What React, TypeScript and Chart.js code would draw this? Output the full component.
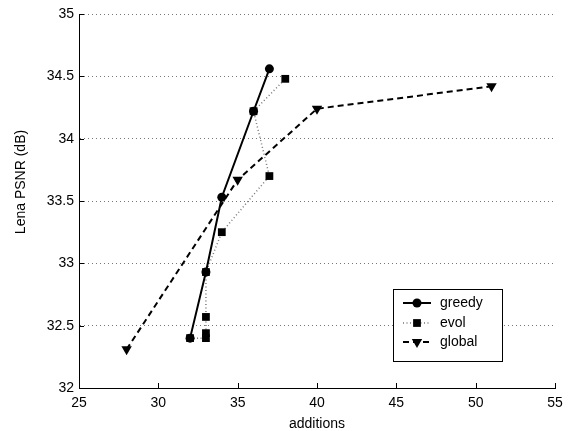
import React, { useEffect, useRef } from "react";
import { Chart, registerables } from "chart.js";

Chart.register(...registerables);

const greedyX = [32, 33, 34, 36, 37];
const greedyY = [32.40, 32.93, 33.53, 34.22, 34.56];

const evolX = [32, 33, 33, 33, 33, 34, 37, 36, 38];
const evolY = [32.40, 32.40, 32.44, 32.57, 32.93, 33.25, 33.70, 34.22, 34.48];

const globalX = [28, 35, 40, 51];
const globalY = [32.31, 33.67, 34.24, 34.42];

const xTicks = [25, 30, 35, 40, 45, 50, 55];
const yTicks = [32, 32.5, 33, 33.5, 34, 34.5, 35];

const xTitle = "additions";
const yTitle = "Lena PSNR (dB)";

const FONT = "'Liberation Sans', Arial, Helvetica, sans-serif";

const toPoints = (xs: number[], ys: number[]) => xs.map((x, i) => ({ x, y: ys[i] }));

function drawMarker(ctx: CanvasRenderingContext2D, style: string, x: number, y: number, r: number) {
  ctx.beginPath();
  if (style === "circle") {
    ctx.arc(x, y, r, 0, Math.PI * 2);
  } else if (style === "rect") {
    const s = Math.SQRT1_2 * r;
    ctx.rect(x - s, y - s, 2 * s, 2 * s);
  } else {
    const a = Math.PI;
    for (let k = 0; k < 3; k++) {
      const ang = a + k * (2 * Math.PI / 3);
      const px = x + Math.sin(ang) * r;
      const py = y - Math.cos(ang) * r;
      if (k === 0) ctx.moveTo(px, py); else ctx.lineTo(px, py);
    }
    ctx.closePath();
  }
  ctx.fillStyle = "#000";
  ctx.fill();
}

const tickPlugin = {
  id: "inwardTicks",
  afterDraw(chart: any) {
    const ctx = chart.ctx as CanvasRenderingContext2D;
    const { left, bottom } = chart.chartArea;
    const xs = chart.scales.x;
    const ys = chart.scales.y;
    ctx.save();
    ctx.strokeStyle = "#000";
    ctx.lineWidth = 1;
    ctx.beginPath();
    xs.ticks.forEach((t: any) => {
      const px = Math.round(xs.getPixelForValue(t.value)) + 0.5;
      ctx.moveTo(px, bottom);
      ctx.lineTo(px, bottom - 5);
    });
    ys.ticks.forEach((t: any) => {
      const py = Math.round(ys.getPixelForValue(t.value)) + 0.5;
      ctx.moveTo(left, py);
      ctx.lineTo(left + 5, py);
    });
    ctx.stroke();
    // axis titles
    ctx.fillStyle = "#000";
    ctx.font = `14px ${FONT}`;
    ctx.textAlign = "center";
    ctx.textBaseline = "middle";
    ctx.fillText(xTitle, (chart.chartArea.left + chart.chartArea.right) / 2, 424);
    ctx.translate(21, 182);
    ctx.rotate(-Math.PI / 2);
    ctx.fillText(yTitle, 0, 0);
    ctx.restore();
  },
};

const legendPlugin = {
  id: "boxLegend",
  afterDraw(chart: any) {
    const ctx = chart.ctx as CanvasRenderingContext2D;
    const bx = 393.5, by = 289.5, bw = 109, bh = 72;
    ctx.save();
    ctx.fillStyle = "#fff";
    ctx.fillRect(bx, by, bw, bh);
    ctx.strokeStyle = "#000";
    ctx.lineWidth = 1;
    ctx.strokeRect(bx, by, bw, bh);
    const rows = [303, 323, 342];
    chart.data.datasets.forEach((ds: any, i: number) => {
      const y = rows[i];
      ctx.save();
      ctx.strokeStyle = ds.borderColor;
      ctx.lineWidth = ds.borderWidth;
      ctx.setLineDash(ds.borderDash || []);
      ctx.beginPath();
      ctx.moveTo(403, y);
      ctx.lineTo(431, y);
      ctx.stroke();
      ctx.restore();
      drawMarker(ctx, ds.pointStyle, 417, y, ds.pointRadius);
      ctx.fillStyle = "#000";
      ctx.font = `14px ${FONT}`;
      ctx.textBaseline = "middle";
      ctx.textAlign = "left";
      ctx.fillText(ds.label, 440, y);
    });
    ctx.restore();
  },
};

export default function App() {
  const ref = useRef<HTMLCanvasElement>(null);

  useEffect(() => {
    if (!ref.current) return;
    const chart = new Chart(ref.current, {
      type: "line",
      data: {
        datasets: [
          {
            label: "greedy",
            data: toPoints(greedyX, greedyY),
            borderColor: "#000",
            backgroundColor: "#000",
            borderWidth: 2,
            pointStyle: "circle",
            pointRadius: 4.5,
            pointBackgroundColor: "#000",
            pointBorderWidth: 0,
          },
          {
            label: "evol",
            data: toPoints(evolX, evolY),
            borderColor: "#777",
            backgroundColor: "#000",
            borderWidth: 1.5,
            borderDash: [1, 2.5],
            pointStyle: "rect",
            pointRadius: 5.5,
            pointBackgroundColor: "#000",
            pointBorderWidth: 0,
          },
          {
            label: "global",
            data: toPoints(globalX, globalY),
            borderColor: "#000",
            backgroundColor: "#000",
            borderWidth: 2,
            borderDash: [6, 4],
            pointStyle: "triangle",
            pointRotation: 180,
            pointRadius: 6,
            pointBackgroundColor: "#000",
            pointBorderWidth: 0,
          },
        ] as any,
      },
      options: {
        responsive: false,
        animation: false,
        devicePixelRatio: 1,
        layout: { padding: { top: 14, right: 17, left: 0, bottom: 0 } },
        plugins: {
          legend: { display: false },
          tooltip: { enabled: false },
        },
        elements: { line: { tension: 0, fill: false } },
        scales: {
          x: {
            type: "linear",
            min: 25,
            max: 55,
            afterBuildTicks: (s: any) => {
              s.ticks = xTicks.map((v) => ({ value: v }));
            },
            afterFit: (s: any) => {
              s.height = 43;
            },
            grid: { display: false, drawTicks: false },
            border: { display: true, color: "#000", width: 1 },
            ticks: {
              color: "#000",
              font: { family: FONT, size: 14 },
              padding: 7,
              maxRotation: 0,
              callback: (v: any) => String(v),
            },
            title: { display: false },
          },
          y: {
            type: "linear",
            min: 32,
            max: 35,
            afterBuildTicks: (s: any) => {
              s.ticks = yTicks.map((v) => ({ value: v }));
            },
            afterFit: (s: any) => {
              s.width = 79;
            },
            grid: {
              display: true,
              drawTicks: false,
              color: "#777",
              lineWidth: 1,
            } as any,
            border: { display: true, color: "#000", width: 1, dash: [1, 3] } as any,
            ticks: {
              color: "#000",
              font: { family: FONT, size: 14 },
              padding: 5,
              callback: (v: any) => String(v),
            },
            title: { display: false },
          },
        },
      },
      plugins: [tickPlugin, legendPlugin],
    } as any);
    return () => chart.destroy();
  }, []);

  return (
    <div style={{ position: "fixed", left: 0, top: 0, width: 572, height: 431, background: "#fff" }}>
      <canvas ref={ref} width={572} height={431} style={{ display: "block" }} />
    </div>
  );
}
